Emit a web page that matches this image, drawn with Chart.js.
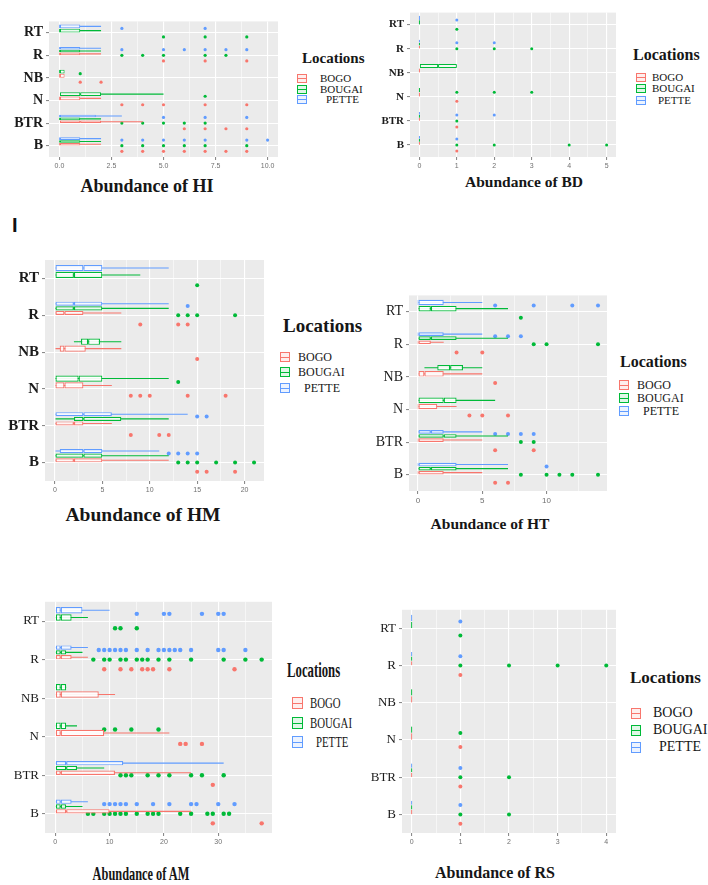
<!DOCTYPE html>
<html>
<head>
<meta charset="utf-8">
<script src="https://cdn.jsdelivr.net/npm/chart.js@4.4.1/dist/chart.umd.min.js"></script>
<style>
  html, body { margin: 0; padding: 0; background: #ffffff; }
  #fig { position: relative; width: 708px; height: 885px; overflow: hidden;
         font-family: "Liberation Serif", "Times New Roman", serif; color: #161616; }
  #fig canvas { position: absolute; }
  .ttl { position: absolute; white-space: nowrap; line-height: 1; font-weight: bold;
         transform: translate(-50%, -50%); }
  .lgt { position: absolute; white-space: nowrap; line-height: 1; font-weight: bold;
         transform-origin: left center; }
  .lgi { position: absolute; white-space: nowrap; line-height: 1; transform-origin: left center; }
  .key { position: absolute; box-sizing: border-box; }
  .key::after { content: ""; position: absolute; left: 0; right: 0; top: 50%; height: 1px;
                margin-top: -0.5px; background: var(--kc); }
  .tag { position: absolute; left: 12px; top: 225px; font: bold 20px "Liberation Sans", Arial, sans-serif;
         line-height: 1; transform: translateY(-50%); color: #111; }
</style>
</head>
<body>
<div id="fig"></div>
<script>
// Sites along the river, top to bottom of every panel
const categories = ["RT", "R", "NB", "N", "BTR", "B"];
const locations = ["BOGO", "BOUGAI", "PETTE"];

// Box statistics per site: [lower whisker, Q1, median, Q3, upper whisker]; null = no sample

// Abundance of HI
const hiPette  = [[0,0,0,1,2], [0,0,0,1,2], null, null, [0,0,0,1.75,3], [0,0,0,1,2]];
const hiBougai = [[0,0,0,1,2], [0,0,0,1,2], [0,0,0,0.25,0], [0,0,1,2,5], [0,0,0,1,2], [0,0,0,1,2]];
const hiBogo   = [null, [0,0,0,1,2], [0,0,0,0.25,0], [0,0,0,1,2], [0,0,1,2,4], [0,0,0,1,2]];
const hiPetteOut  = [[3,7], [3,5,6,7,8,9], [], [], [5,7,9], [3,4,5,6,7,9,10]];
const hiBougaiOut = [[5,7,9], [3,4,5,7,8], [1], [7], [3,4,5,6,7], [3,4,5,6,7,9]];
const hiBogoOut   = [[], [5,7,9], [1,2], [3,4,5,7,9], [6,7,8,9], [3,4,5,6,7,8,9]];

// Abundance of BD
const bdPette  = [[0,0,0,0,0], [0,0,0,0,0], null, null, [0,0,0,0,0], [0,0,0,0,0]];
const bdBougai = [[0,0,0,0,0], [0,0,0,0,0], [0,0,0.5,1,1], [0,0,0,0,0], [0,0,0,0,0], [0,0,0,0,0]];
const bdBogo   = [null, [0,0,0,0,0], [0,0,0,0,0], [0,0,0,0,0], [0,0,0,0,0], [0,0,0,0,0]];
const bdPetteOut  = [[1], [1,2], [], [], [1,2], [1]];
const bdBougaiOut = [[1], [1,2,3], [], [1,2,3], [1], [1,2,4,5]];
const bdBogoOut   = [[], [], [], [1], [1], [1]];

// Abundance of HM
const hmPette  = [[0,0,3,5,12], [0,0,2,5,12], null, null, [0,0,3,6,14], [0,0.5,3,5,11]];
const hmBougai = [[0,0,2,5,9], [0,0,2,5,12], [2,2.75,3.5,4.75,7], [0,0,2.5,5,12], [0,2,3,7,12], [0,0,3,5,12]];
const hmBogo   = [null, [0,0,1,3,7], [0,0.5,1,3.25,7], [0,0,1,3,6], [0,0,2,3,6], [0,0,2,5,12]];
const hmPetteOut  = [[], [14], [], [], [15,16], [12,13,14,15]];
const hmBougaiOut = [[15], [13,14,15,19], [], [13], [], [13,14,15,17,19,21]];
const hmBogoOut   = [[], [9,13,14], [15], [8,9,10,14,18], [8,11,12], [15,16,19]];

// Abundance of HT
const htPette  = [[0,0,0,2,5], [0,0,0,2,5], null, null, [0,0,1,2,5], [0,0,0,3,7]];
const htBougai = [[0,0,1,3,7], [0,0,1,3,7], [0.5,1.5,2.5,3.5,5], [0,0,2,3,6], [0,0,2,3,7], [0,0,1,3,7]];
const htBogo   = [null, [0,0,0,1,2], [0,0,0.5,2,5], [0,0,0,1.5,3], [0,0,0,2,5], [0,0,0,2,5]];
const htPetteOut  = [[6,9,12,14], [6,7,8], [], [], [6,7,8,9], [10]];
const htBougaiOut = [[8], [9,10,14], [], [], [8,9], [8,10,11,12,14]];
const htBogoOut   = [[], [3,5], [6], [4,5,7], [6,9], [6,7]];

// Abundance of AM
const amPette  = [[0,0,1,5,10], [0,0,1,3,6], null, null, [0,0,2,12.5,31], [0,0,1,3,6]];
const amBougai = [[0,0,1,3,6], [0,0,1,2,5], [0,0,1,2,2], [0,0,1,2,4], [0,0,2,4,9], [0,0,1,2,5]];
const amBogo   = [null, [0,0,1,3,6], [0,0,1,8,11], [0,0,1,9,21], [0,0,1,11,25], [0,0,2,10,25]];
const amPetteOut  = [[15,20,21,27,30,31], [8,9,10,11,12,13,15,17,19,20,21,22,23,25,30,31,35], [], [], [],
                     [9,10,11,12,13,15,18,21,25,26,30,33]];
const amBougaiOut = [[11,12,15], [7,9,10,12,13,15,16,17,19,21,25,31,35,38], [], [9,11,14,19],
                     [12,13,14,17,19,21,25,27,31], [6,7,9,10,11,12,13,15,17,18,19,23,25,28,29,31,32]];
const amBogoOut   = [[], [9,12,14,16,17,18,21,33], [], [23,24,27], [29], [29,38]];

// Abundance of RS
const rsPette  = [[0,0,0,0,0], [0,0,0,0,0], null, null, [0,0,0,0,0], [0,0,0,0,0]];
const rsBougai = [[0,0,0,0,0], [0,0,0,0,0], [0,0,0,0,0], [0,0,0,0,0], [0,0,0,0,0], [0,0,0,0,0]];
const rsBogo   = [null, [0,0,0,0,0], [0,0,0,0,0], [0,0,0,0,0], [0,0,0,0,0], [0,0,0,0,0]];
const rsPetteOut  = [[1], [1], [], [], [1], [1]];
const rsBougaiOut = [[1], [1,2,3,4], [], [1], [1,2], [1,2]];
const rsBogoOut   = [[], [1], [], [1], [1], [1]];

// ---------------------------------------------------------------------------
const COLORS = { BOGO: "#F8766D", BOUGAI: "#00BA38", PETTE: "#619CFF" };
const KEY_FILL = { BOGO: "rgba(248,118,109,0.12)", BOUGAI: "rgba(0,186,56,0.12)", PETTE: "rgba(97,156,255,0.12)" };
const STACK_ORDER = ["PETTE", "BOUGAI", "BOGO"];   // top to bottom inside a site
const CAT_PCT = 0.75;
const fig = document.getElementById("fig");

// grey ggplot-like panel
const panelBackground = {
  id: "panelBackground",
  beforeDraw(chart) {
    const a = chart.chartArea, c = chart.ctx;
    c.save();
    c.fillStyle = "#EBEBEB";
    c.fillRect(a.left, a.top, a.right - a.left, a.bottom - a.top);
    c.restore();
  }
};

// vertical centre (in category units) of a dodged box, matching Chart.js grouping with skipNull
function dodgeY(stats, i, g) {
  const present = STACK_ORDER.filter(k => stats[k][i] !== null);
  const n = present.length, k = present.indexOf(g);
  return i - CAT_PCT / 2 + (CAT_PCT / n) * (k + 0.5);
}

function drawPanel(p) {
  const padT = 4, padR = 10;
  const left = p.L - p.yW, top = p.T - padT;
  const w = p.R + padR - left, h = p.B + p.xH - top;
  const canvas = document.createElement("canvas");
  canvas.width = w; canvas.height = h;
  canvas.style.left = left + "px"; canvas.style.top = top + "px";
  canvas.style.width = w + "px"; canvas.style.height = h + "px";
  fig.appendChild(canvas);

  // ggplot style 5% expansion around the data range
  const all = [];
  STACK_ORDER.forEach(g => {
    p.stats[g].forEach(s => { if (s) all.push(s[4]); });
    p.out[g].forEach(o => all.push(...o));
  });
  const vmax = Math.max(...all);
  const xmin = -0.05 * vmax, xmax = 1.05 * vmax;
  const half = p.major / 2;
  const tickVals = [];
  for (let k = 0; k * half <= xmax + 1e-9; k++) tickVals.push(+(k * half).toFixed(6));
  const isMajor = v => Math.abs(v / p.major - Math.round(v / p.major)) < 1e-6;

  const barBase = { type: "bar", xAxisID: "x", yAxisID: "y", skipNull: true,
                    categoryPercentage: CAT_PCT, inflateAmount: 0 };
  const datasets = [];
  // box halves: Q1..median and median..Q3 (the shared edge draws the median)
  STACK_ORDER.forEach(g => datasets.push(Object.assign({}, barBase, {
    stack: g, barPercentage: 0.9, minBarLength: 1,
    data: p.stats[g].map(s => s ? [s[1], s[2]] : null),
    backgroundColor: "rgba(255,255,255,0.92)", borderColor: COLORS[g],
    borderWidth: p.lw, borderSkipped: false })));
  STACK_ORDER.forEach(g => datasets.push(Object.assign({}, barBase, {
    stack: g, barPercentage: 0.9, minBarLength: 1,
    data: p.stats[g].map(s => s ? [s[2], s[3]] : null),
    backgroundColor: "rgba(255,255,255,0.92)", borderColor: COLORS[g],
    borderWidth: p.lw, borderSkipped: false })));
  // whiskers: thin bars from lower to upper whisker, drawn behind the boxes
  STACK_ORDER.forEach(g => datasets.push(Object.assign({}, barBase, {
    stack: g, barPercentage: 1, maxBarThickness: 1.1,
    data: p.stats[g].map(s => s ? [s[0], s[4]] : null),
    backgroundColor: COLORS[g], borderWidth: 0 })));
  // outliers
  STACK_ORDER.forEach(g => {
    const pts = [];
    p.out[g].forEach((vals, i) => vals.forEach(v => pts.push({ x: v, y: dodgeY(p.stats, i, g) })));
    datasets.push({ type: "scatter", xAxisID: "x", yAxisID: "yl", data: pts,
                    pointRadius: p.ptR, pointBackgroundColor: COLORS[g], pointBorderWidth: 0 });
  });

  new Chart(canvas, {
    type: "bar",
    data: { labels: categories, datasets },
    plugins: [panelBackground],
    options: {
      indexAxis: "y",
      responsive: false,
      devicePixelRatio: 1,
      animation: false,
      events: [],
      layout: { padding: { top: padT, right: padR, left: 0, bottom: 0 }, autoPadding: false },
      plugins: { legend: { display: false }, tooltip: { enabled: false } },
      scales: {
        x: {
          type: "linear", position: "bottom", min: xmin, max: xmax, offset: false, stacked: false,
          afterFit: s => { s.height = p.xH; },
          afterBuildTicks: s => { s.ticks = tickVals.map(v => ({ value: v })); },
          ticks: {
            callback: v => isMajor(v) ? v.toFixed(p.dec) : "",
            font: { family: "Liberation Sans", size: p.xFont }, color: "#707070",
            padding: 2, maxRotation: 0, minRotation: 0, autoSkip: false
          },
          grid: {
            color: "#FFFFFF",
            lineWidth: c => isMajor(c.tick.value) ? 1.1 : 0.55,
            tickColor: c => isMajor(c.tick.value) ? "#8a8a8a" : "rgba(0,0,0,0)",
            tickLength: 3
          },
          border: { display: false }
        },
        y: {
          type: "category", position: "left", offset: true,
          afterFit: s => { s.width = p.yW; },
          ticks: {
            font: { family: "Liberation Serif", size: p.ySize, weight: p.yWeight },
            color: "#1b1b1b", padding: 3, autoSkip: false
          },
          grid: { color: "#FFFFFF", lineWidth: 1.1, offset: false, tickColor: "#8a8a8a", tickLength: 3 },
          border: { display: false }
        },
        yl: { type: "linear", axis: "y", position: "left", display: false,
              min: -0.5, max: 5.5, reverse: true, offset: false }
      }
    }
  });
}

const panels = [
  { L: 49, T: 14, R: 278, B: 157, yW: 47, xH: 16, major: 2.5, dec: 1, xFont: 7,
    ySize: 14, yWeight: "bold", ptR: 1.6, lw: 1,
    stats: { PETTE: hiPette, BOUGAI: hiBougai, BOGO: hiBogo },
    out: { PETTE: hiPetteOut, BOUGAI: hiBougaiOut, BOGO: hiBogoOut } },
  { L: 410, T: 7, R: 616, B: 157, yW: 38, xH: 16, major: 1, dec: 0, xFont: 7,
    ySize: 11, yWeight: "bold", ptR: 1.5, lw: 1,
    stats: { PETTE: bdPette, BOUGAI: bdBougai, BOGO: bdBogo },
    out: { PETTE: bdPetteOut, BOUGAI: bdBougaiOut, BOGO: bdBogoOut } },
  { L: 45, T: 252, R: 264, B: 481, yW: 44, xH: 16, major: 5, dec: 0, xFont: 7,
    ySize: 15, yWeight: "bold", ptR: 2, lw: 1.2,
    stats: { PETTE: hmPette, BOUGAI: hmBougai, BOGO: hmBogo },
    out: { PETTE: hmPetteOut, BOUGAI: hmBougaiOut, BOGO: hmBogoOut } },
  { L: 409, T: 288, R: 607, B: 491, yW: 42, xH: 18, major: 5, dec: 0, xFont: 8,
    ySize: 14, yWeight: "normal", ptR: 2, lw: 1.2,
    stats: { PETTE: htPette, BOUGAI: htBougai, BOGO: htBogo },
    out: { PETTE: htPetteOut, BOUGAI: htBougaiOut, BOGO: htBogoOut } },
  { L: 45, T: 595, R: 272, B: 833, yW: 43, xH: 16, major: 10, dec: 0, xFont: 7,
    ySize: 13, yWeight: "normal", ptR: 2.2, lw: 1.2,
    stats: { PETTE: amPette, BOUGAI: amBougai, BOGO: amBogo },
    out: { PETTE: amPetteOut, BOUGAI: amBougaiOut, BOGO: amBogoOut } },
  { L: 402, T: 603, R: 616, B: 833, yW: 45, xH: 16, major: 1, dec: 0, xFont: 7,
    ySize: 13, yWeight: "normal", ptR: 2, lw: 1.2,
    stats: { PETTE: rsPette, BOUGAI: rsBougai, BOGO: rsBogo },
    out: { PETTE: rsPetteOut, BOUGAI: rsBougaiOut, BOGO: rsBogoOut } }
];
panels.forEach(drawPanel);

// axis titles
const axisTitles = [
  { text: "Abundance of HI", x: 147, y: 186, size: 18, sx: 1 },
  { text: "Abundance of BD", x: 524, y: 182, size: 15.5, sx: 1 },
  { text: "Abundance of HM", x: 143, y: 515, size: 19.5, sx: 1 },
  { text: "Abundance of HT", x: 490, y: 524, size: 15.5, sx: 1 },
  { text: "Abundance of AM", x: 141, y: 873, size: 19, sx: 0.65 },
  { text: "Abundance of RS", x: 495, y: 873, size: 16, sx: 1 }
];
axisTitles.forEach(t => {
  const d = document.createElement("div");
  d.className = "ttl";
  d.textContent = t.text;
  d.style.left = t.x + "px"; d.style.top = t.y + "px"; d.style.fontSize = t.size + "px";
  d.style.transform = `translate(-50%, -50%) scaleX(${t.sx})`;
  fig.appendChild(d);
});

// "Locations" legends
const legends = [
  { x: 302, ty: 58, tSize: 15, tsx: 1, kx: 297, kw: 10, kh: 9, tx: 320, iy: [78, 89, 99], iSize: 11, isx: 1 },
  { x: 633, ty: 55, tSize: 16, tsx: 1, kx: 636, kw: 10, kh: 9, tx: 652, iy: [77, 88, 100], iSize: 11, isx: 1 },
  { x: 283, ty: 325, tSize: 19, tsx: 1, kx: 280, kw: 10, kh: 10, tx: 298, iy: [357, 372, 388], iSize: 12, isx: 1 },
  { x: 620, ty: 362, tSize: 16, tsx: 1, kx: 619, kw: 10, kh: 10, tx: 637, iy: [385, 398, 411], iSize: 12, isx: 1 },
  { x: 287, ty: 670, tSize: 22, tsx: 0.58, kx: 292, kw: 11, kh: 12, tx: 310, iy: [703, 723, 742], iSize: 15, isx: 0.72 },
  { x: 630, ty: 677, tSize: 17, tsx: 1, kx: 631, kw: 10, kh: 11, tx: 653, iy: [713, 730, 747], iSize: 14, isx: 1 }
];
legends.forEach(l => {
  const t = document.createElement("div");
  t.className = "lgt";
  t.textContent = "Locations";
  t.style.left = l.x + "px"; t.style.top = l.ty + "px"; t.style.fontSize = l.tSize + "px";
  t.style.transform = `translateY(-50%) scaleX(${l.tsx})`;
  fig.appendChild(t);
  locations.forEach((name, j) => {
    const k = document.createElement("div");
    k.className = "key";
    k.style.left = l.kx + "px"; k.style.top = Math.round(l.iy[j] - l.kh / 2) + "px";
    k.style.width = l.kw + "px"; k.style.height = l.kh + "px";
    k.style.border = "1px solid " + COLORS[name];
    k.style.background = KEY_FILL[name];
    k.style.setProperty("--kc", COLORS[name]);
    fig.appendChild(k);
    const s = document.createElement("div");
    s.className = "lgi";
    s.textContent = name;
    s.style.left = (l.tx + (name === "PETTE" ? 6 : 0)) + "px";
    s.style.top = l.iy[j] + "px"; s.style.fontSize = l.iSize + "px";
    s.style.transform = `translateY(-50%) scaleX(${l.isx})`;
    fig.appendChild(s);
  });
});

// panel tag
const tag = document.createElement("div");
tag.className = "tag";
tag.textContent = "I";
fig.appendChild(tag);
</script>
</body>
</html>
